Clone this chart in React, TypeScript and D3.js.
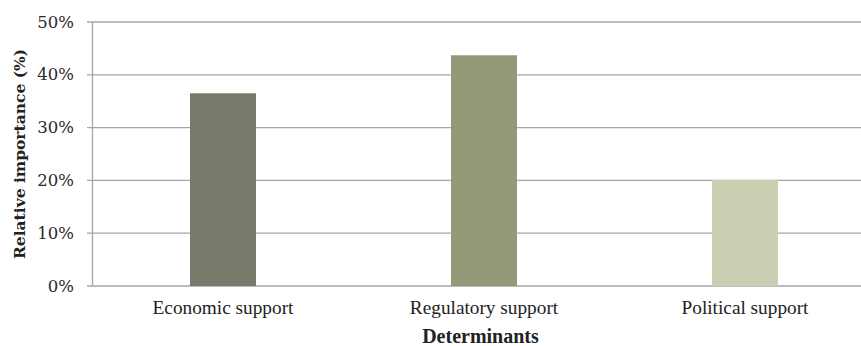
import React from "react";
import * as d3 from "d3";

const categories = ["Economic support", "Regulatory support", "Political support"];
const values = [36.5, 43.7, 20.1];
const barColors = ["#77796a", "#949a78", "#cbcfb2"];
const yTicks = [0, 10, 20, 30, 40, 50];

const W = 861;
const H = 346;
const plotLeft = 92.5;
const plotTop = 22;
const plotBottom = 286;
const bandWidth = 261;

export default function App() {
  const x = d3
    .scaleBand<string>()
    .domain(categories)
    .range([plotLeft, plotLeft + bandWidth * categories.length])
    .paddingInner(0)
    .paddingOuter(0);
  const y = d3.scaleLinear().domain([0, 50]).range([plotBottom, plotTop]);
  const barW = 66;
  const tickFont = "'DejaVu Serif', serif";
  const labelFont = "'Liberation Serif', 'Times New Roman', serif";

  return (
    <svg
      width={W}
      height={H}
      style={{ position: "absolute", left: 0, top: 0, background: "#fff" }}
    >
      {/* horizontal gridlines with left tick marks */}
      {yTicks.map((t) => (
        <g key={t}>
          <line
            x1={87}
            x2={W}
            y1={y(t)}
            y2={y(t)}
            stroke="#a6a6a6"
            strokeWidth={1.3}
          />
          <text
            x={74}
            y={y(t)}
            textAnchor="end"
            dominantBaseline="central"
            fontFamily={tickFont}
            fontSize={16.5}
            fill="#2a2a2a"
          >
            {t}%
          </text>
        </g>
      ))}
      {/* vertical axis line */}
      <line
        x1={plotLeft}
        x2={plotLeft}
        y1={plotTop}
        y2={plotBottom}
        stroke="#a6a6a6"
        strokeWidth={1.3}
      />
      {/* bars */}
      {categories.map((c, i) => {
        const cx = (x(c) ?? 0) + x.bandwidth() / 2;
        return (
          <rect
            key={c}
            x={cx - barW / 2}
            y={y(values[i])}
            width={barW}
            height={plotBottom - y(values[i])}
            fill={barColors[i]}
          />
        );
      })}
      {/* category labels */}
      {categories.map((c) => (
        <text
          key={c}
          x={(x(c) ?? 0) + x.bandwidth() / 2}
          y={314}
          textAnchor="middle"
          fontFamily={labelFont}
          fontSize={19.3}
          fill="#222"
        >
          {c}
        </text>
      ))}
      {/* axis titles */}
      <text
        x={480.5}
        y={343}
        textAnchor="middle"
        fontFamily={labelFont}
        fontWeight="bold"
        fontSize={20}
        fill="#222"
      >
        Determinants
      </text>
      <text
        transform={`translate(24.5, ${(plotTop + plotBottom) / 2}) rotate(-90)`}
        textAnchor="middle"
        fontFamily={tickFont}
        fontWeight="bold"
        fontSize={15.5}
        fill="#222"
      >
        Relative importance (%)
      </text>
    </svg>
  );
}
